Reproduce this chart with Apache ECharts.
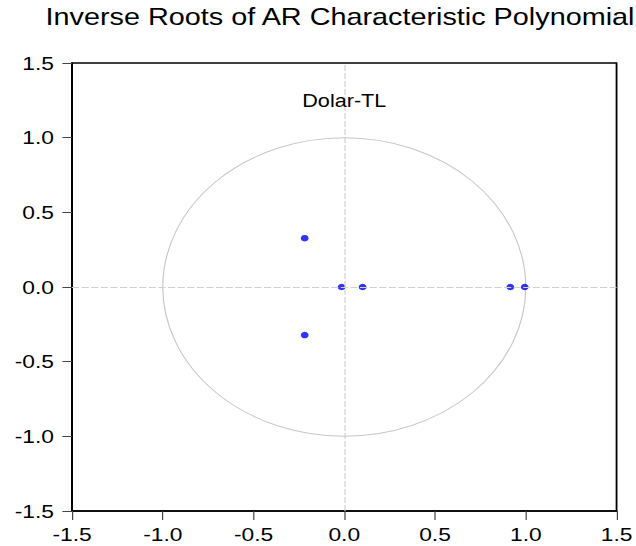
<!DOCTYPE html>
<html>
<head>
<meta charset="utf-8">
<script src="https://cdn.jsdelivr.net/npm/echarts@6/dist/echarts.min.js"></script>
<style>
  html, body { margin: 0; padding: 0; background: #fff; overflow: hidden; }
  /* the graph is laid out narrower, then widened so its text reads broad like the exported graph */
  #chart { width: 530px; height: 546px; transform: scaleX(1.2); transform-origin: 0 0; }
</style>
</head>
<body>
<div id="chart"></div>
<script>
// Inverse roots (real, imaginary) of the AR characteristic polynomial
const rootReal = [-0.218, -0.218, -0.015, 0.101, 0.915, 0.994];
const rootImag = [0.327, -0.322, 0.0, 0.0, 0.0, 0.0];
const axisTicks = [-1.5, -1.0, -0.5, 0.0, 0.5, 1.0, 1.5];
const seriesLabel = 'Dolar-TL';
const labelPos = [0, 1.25];
const unitRadius = 1;

const points = rootReal.map((r, i) => [r, rootImag[i]]);
const fontFamily = 'Arial, "Liberation Sans", sans-serif';

const chart = echarts.init(document.getElementById('chart'), null, { renderer: 'svg' });

function makeAxis(tickLen, labelMargin, labelPadding) {
  return {
    type: 'value',
    min: axisTicks[0],
    max: axisTicks[axisTicks.length - 1],
    interval: 0.5,
    axisLine: { show: true, onZero: false, lineStyle: { color: '#000', width: 1.5 } },
    axisTick: { show: true, inside: false, length: tickLen, lineStyle: { color: '#444', width: 1 } },
    axisLabel: {
      color: '#000', fontSize: 19, fontFamily: fontFamily,
      margin: labelMargin, padding: labelPadding,
      formatter: v => v.toFixed(1)
    },
    splitLine: { show: false }
  };
}

chart.setOption({
  animation: false,
  backgroundColor: '#fff',
  title: {
    text: 'Inverse Roots of AR Characteristic Polynomial',
    left: 33, top: 0,
    textStyle: { fontSize: 24, fontWeight: 'normal', color: '#000', fontFamily: fontFamily }
  },
  grid: {
    left: 60, right: 14, top: 63, bottom: 35,
    show: true, borderColor: '#000', borderWidth: 1.5, backgroundColor: 'transparent'
  },
  xAxis: makeAxis(9, 14, 0),
  yAxis: makeAxis(8, 15, [0, 0, 5, 0]),
  series: [
    {
      // unit circle and the zero reference lines, drawn through the axis scales
      type: 'custom',
      silent: true,
      z: 1,
      data: [[0, 0]],
      renderItem: function (params, api) {
        const c = api.coord([0, 0]);
        const e = api.coord([unitRadius, unitRadius]);
        const rx = Math.abs(e[0] - c[0]);
        const ry = Math.abs(c[1] - e[1]);
        const d = 'M ' + (c[0] - rx) + ' ' + c[1] +
          ' A ' + rx + ' ' + ry + ' 0 1 0 ' + (c[0] + rx) + ' ' + c[1] +
          ' A ' + rx + ' ' + ry + ' 0 1 0 ' + (c[0] - rx) + ' ' + c[1] + ' Z';
        return {
          type: 'path',
          shape: { pathData: d },
          style: { fill: 'none', stroke: '#c8c8c8', lineWidth: 1 }
        };
      },
      markLine: {
        silent: true,
        symbol: 'none',
        label: { show: false },
        lineStyle: { color: '#d0d0d0', type: [6, 2], width: 1 },
        data: [{ xAxis: 0 }, { yAxis: 0 }]
      },
      markPoint: {
        silent: true,
        symbol: 'circle',
        symbolSize: 0,
        data: [{
          coord: labelPos,
          label: {
            show: true, position: 'inside', formatter: seriesLabel,
            color: '#000', fontSize: 18, fontFamily: fontFamily
          }
        }]
      }
    },
    {
      type: 'scatter',
      z: 3,
      symbol: 'circle',
      symbolSize: [6.5, 6.5],
      itemStyle: { color: '#0000ff' },
      data: points
    }
  ]
});
</script>
</body>
</html>
